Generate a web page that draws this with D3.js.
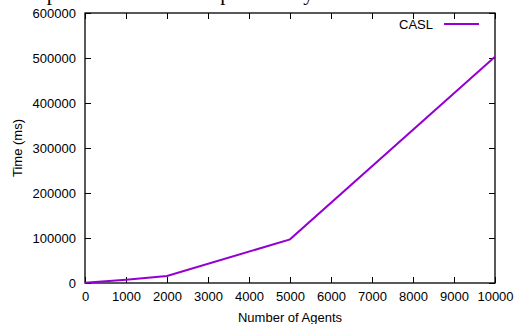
<!DOCTYPE html>
<html>
<head>
<meta charset="utf-8">
<script src="https://cdn.jsdelivr.net/npm/d3@7"></script>
<style>
  body { margin: 0; background: #fff; }
  svg { display: block; }
</style>
</head>
<body>
<div id="chart"></div>
<script>
// datos
var agentes = [0, 1000, 2000, 5000, 10000];
var tiempoCASL = [500, 7000, 15500, 97000, 503000];
var xTicks = [0, 1000, 2000, 3000, 4000, 5000, 6000, 7000, 8000, 9000, 10000];
var yTicks = [0, 100000, 200000, 300000, 400000, 500000, 600000];
var serie = "CASL";

var W = 514, H = 324;
var margin = {top: 13, right: 19, bottom: 41, left: 85};
var width = W - margin.left - margin.right;
var height = H - margin.top - margin.bottom;

var svg = d3.select("#chart").append("svg")
    .attr("width", W)
    .attr("height", H);

svg.append("rect").attr("width", W).attr("height", H).attr("fill", "white");

// titulo cortado arriba (solo se ven los descendentes)
svg.append("text")
    .attr("x", 4)
    .attr("y", 0)
    .style("font-family", "Liberation Serif, serif")
    .style("font-size", "21px")
    .style("letter-spacing", "0.6px")
    .text("Computation Time Comparison by");

var g = svg.append("g")
    .attr("transform", "translate(" + margin.left + "," + margin.top + ")");

var xScale = d3.scaleLinear().domain([0, 10000]).range([0, width]);
var yScale = d3.scaleLinear().domain([0, 600000]).range([height, 0]);

var fuente = "Liberation Sans, Arial, sans-serif";

// ejes (ticks hacia dentro, estilo gnuplot)
var xAxis = d3.axisBottom(xScale).tickValues(xTicks).tickSizeInner(-6).tickSizeOuter(0).tickPadding(9).tickFormat(d3.format("d"));
var yAxis = d3.axisLeft(yScale).tickValues(yTicks).tickSizeInner(-6).tickSizeOuter(0).tickPadding(9).tickFormat(d3.format("d"));
var xTop = d3.axisTop(xScale).tickValues(xTicks).tickSizeInner(-6).tickSizeOuter(0).tickFormat("");
var yRight = d3.axisRight(yScale).tickValues(yTicks).tickSizeInner(-6).tickSizeOuter(0).tickFormat("");

var xAxisG = g.append("g").attr("transform", "translate(0," + height + ")").call(xAxis);
var yAxisG = g.append("g").call(yAxis);
var xTopG = g.append("g").call(xTop);
var yRightG = g.append("g").attr("transform", "translate(" + width + ",0)").call(yRight);

[xAxisG, yAxisG, xTopG, yRightG].forEach(function(a) {
    a.select(".domain").remove();
    a.selectAll("line").attr("stroke", "#000").attr("stroke-width", 1);
    a.selectAll("text").style("font-family", fuente).style("font-size", "13px").attr("fill", "#000");
});
xAxisG.selectAll("text").attr("dy", "0.71em");

// marco
g.append("rect")
    .attr("width", width)
    .attr("height", height)
    .attr("fill", "none")
    .attr("stroke", "#000")
    .attr("stroke-width", 1.3);

// linea de la serie
var datos = agentes.map(function(a, i) { return [a, tiempoCASL[i]]; });
g.append("path")
    .datum(datos)
    .attr("fill", "none")
    .attr("stroke", "#9400d3")
    .attr("stroke-width", 2)
    .attr("d", d3.line()
        .x(function(d) { return xScale(d[0]); })
        .y(function(d) { return yScale(d[1]); }));

// leyenda
var legend = g.append("g").attr("transform", "translate(" + (width - 62) + ",11)");
legend.append("text")
    .attr("x", 0)
    .attr("y", 0)
    .attr("dy", "0.35em")
    .attr("text-anchor", "end")
    .style("font-family", fuente)
    .style("font-size", "13px")
    .text(serie);
legend.append("line")
    .attr("x1", 11).attr("x2", 46)
    .attr("y1", 0).attr("y2", 0)
    .attr("stroke", "#9400d3")
    .attr("stroke-width", 2);

// etiquetas de ejes
svg.append("text")
    .attr("x", margin.left + width / 2)
    .attr("y", 322)
    .attr("text-anchor", "middle")
    .style("font-family", fuente)
    .style("font-size", "13px")
    .text("Number of Agents");

svg.append("text")
    .attr("transform", "translate(22," + (margin.top + height / 2) + ") rotate(-90)")
    .attr("text-anchor", "middle")
    .style("font-family", fuente)
    .style("font-size", "13px")
    .text("Time (ms)");
</script>
</body>
</html>
